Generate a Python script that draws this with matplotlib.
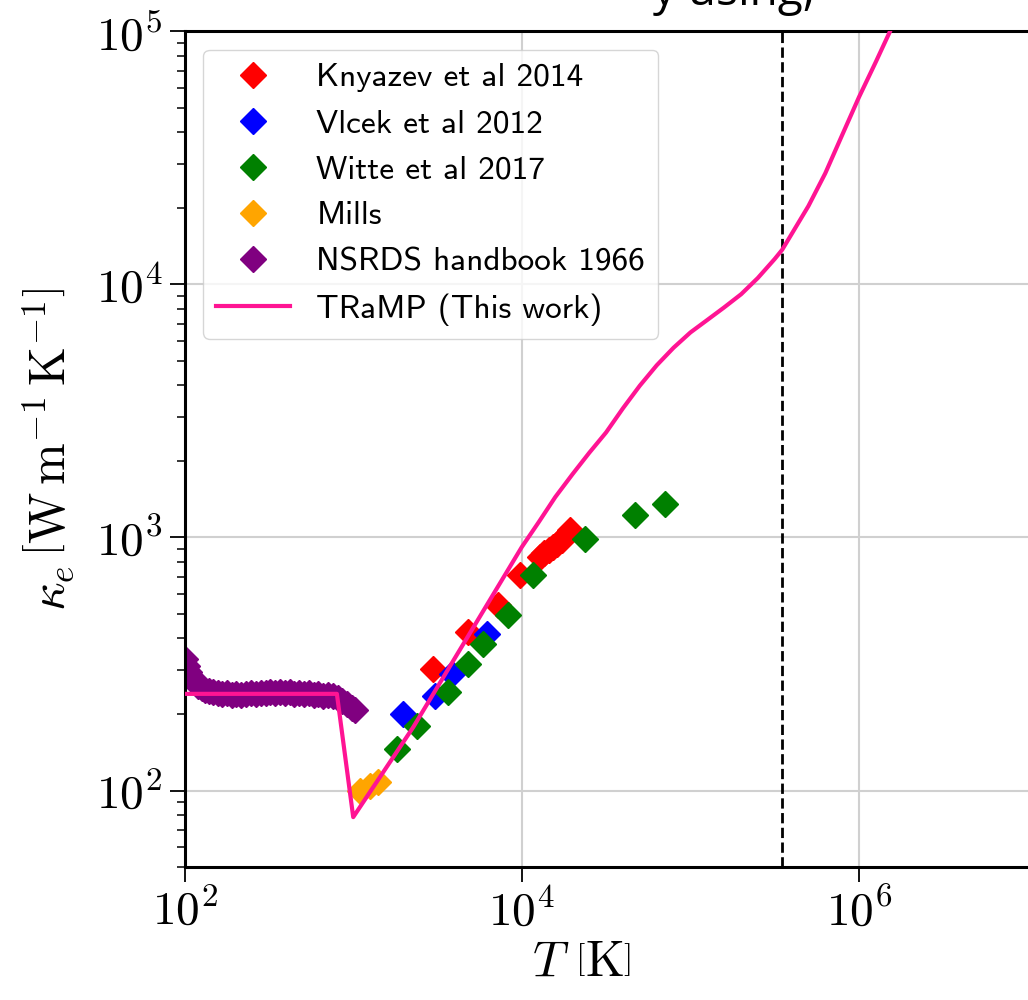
import math
import matplotlib
matplotlib.use("Agg")
import matplotlib.pyplot as plt
from matplotlib.ticker import FixedLocator, FuncFormatter, NullLocator, LogLocator

plt.rcParams['mathtext.fontset'] = 'cm'

# --- data (T in K, kappa_e in W m^-1 K^-1) ---
knyazev_T = [2985, 4820, 7260, 9750, 12800, 13600, 14400, 15300, 16200, 17200, 18200, 19300]
knyazev_k = [303, 423, 540, 710, 838, 865, 890, 918, 945, 975, 1020, 1067]

vlcek_T = [1980, 3050, 3840, 6190]
vlcek_k = [201, 236, 290, 417]

witte_T = [1810, 2380, 3660, 4820, 5920, 8320, 11700, 23700, 46900, 70600]
witte_k = [146, 180, 245, 317, 380, 492, 710, 990, 1225, 1362]

mills_T = [1100, 1250, 1400]
mills_k = [100, 104, 108]

nsrds_T = [100, 103, 106, 110, 115, 120, 126, 132, 140, 148, 157, 167, 178, 190,
           203, 217, 232, 248, 265, 283, 302, 323, 345, 368, 393, 420, 448, 478,
           510, 545, 582, 621, 663, 708, 756, 807, 861, 919, 980, 1020]
nsrds_k = [330, 310, 295, 280, 268, 260, 254, 250, 247, 245, 243, 240, 242, 239,
           241, 238, 240, 243, 241, 244, 242, 245, 243, 246, 242, 245, 241, 244,
           240, 242, 239, 240, 237, 238, 236, 232, 226, 219, 212, 208]

tramp_T = [100, 800, 1000, 2270, 10000, 12600, 15800, 20000, 25100, 31600, 39800,
           50100, 63100, 79400, 100000, 126000, 158000, 200000, 251000, 316000,
           350000, 398000, 501000, 631000, 794000, 1000000, 1260000, 1580000, 2000000]
tramp_k = [241, 241, 78.5, 178, 917, 1150, 1445, 1780, 2160, 2600, 3240,
           3980, 4790, 5620, 6460, 7240, 8100, 9150, 10600, 12600,
           13700, 15800, 20400, 27500, 38900, 55000, 75900, 105000, 145000]

t_dashed = 3.5e5

fig = plt.figure(figsize=(10.28, 10.0), dpi=100)
ax = fig.add_axes([0.1796, 0.1333, 0.984, 0.8353])

ms = 13.5
ax.plot(knyazev_T, knyazev_k, 'D', color='red', ms=ms, label='Knyazev et al 2014')
ax.plot(vlcek_T, vlcek_k, 'D', color='blue', ms=ms, label='Vlcek et al 2012')
ax.plot(witte_T, witte_k, 'D', color='green', ms=ms, label='Witte et al 2017')
ax.plot(mills_T, mills_k, 'D', color='orange', ms=ms, label='Mills')
ax.plot(nsrds_T, nsrds_k, 'D', color='purple', ms=ms, label='NSRDS handbook 1966')
ax.plot(tramp_T, tramp_k, '-', color='deeppink', lw=3.0, label='TRaMP (This work)', zorder=5)
ax.axvline(t_dashed, color='black', ls='--', lw=2.0, zorder=4)

ax.set_xscale('log')
ax.set_yscale('log')
ax.set_xlim(1e2, 1e8)
ax.set_ylim(50, 1e5)

ax.xaxis.set_major_locator(FixedLocator([1e2, 1e4, 1e6]))
ax.xaxis.set_minor_locator(NullLocator())
ax.yaxis.set_major_locator(FixedLocator([1e2, 1e3, 1e4, 1e5]))
ax.yaxis.set_minor_locator(LogLocator(subs=range(2, 10)))
fmt = FuncFormatter(lambda v, p: r'$10^{%d}$' % round(math.log10(v)))
ax.xaxis.set_major_formatter(fmt)
ax.yaxis.set_major_formatter(fmt)
ax.yaxis.set_minor_formatter(FuncFormatter(lambda v, p: ''))

ax.tick_params(which='major', labelsize=34, length=11, width=1.3, pad=5)
ax.tick_params(which='minor', length=6, width=1.1)
for s in ax.spines.values():
    s.set_linewidth(2.2)

ax.grid(True, which='major', color='#d0d0d0', lw=1.5)
ax.set_axisbelow(True)

ax.set_xlabel(r'$T\ \left[\mathrm{K}\right]$', fontsize=36)
ax.xaxis.set_label_coords(0.393, -0.085)
ax.set_ylabel(r'$\kappa_e\,\left[\mathrm{W\,m^{-1}\,K^{-1}}\right]$', fontsize=36, labelpad=14)

leg = ax.legend(loc='upper left', prop={'family': 'cmss10', 'size': 24},
                numpoints=1, handlelength=2.2, borderaxespad=0.55)
leg.set_zorder(10)

# fragment of the slide text above the figure, only its descenders show
fig.text(0.635, 0.984, 'y using,', fontsize=33, family='Open Sans', va='bottom')

fig.savefig('out.png', dpi=100)
